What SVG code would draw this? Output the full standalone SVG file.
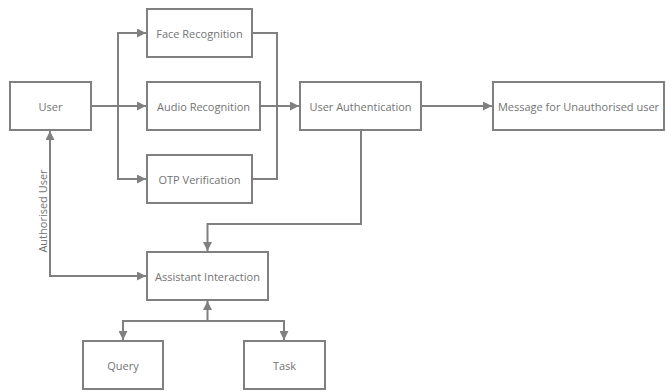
<svg xmlns="http://www.w3.org/2000/svg" width="667" height="391" viewBox="0 0 667 391">
<style>
.box{fill:#fff;stroke:#808080;stroke-width:2}
.t{font-family:"Open Sans","Noto Sans",sans-serif;font-size:11px;fill:#737373;text-anchor:middle;dominant-baseline:central}
.c{fill:none;stroke:#808080;stroke-width:2}
</style>
<defs>
<marker id="a" viewBox="0 0 10 10" refX="10" refY="5" markerWidth="4.5" markerHeight="4.5" orient="auto-start-reverse" markerUnits="strokeWidth">
<path d="M0,0 L10,5 L0,10 z" fill="#808080"/>
</marker>
</defs>
<rect width="667" height="391" fill="#fff"/>
<g id="connectors">
<path class="c" d="M91,106 H146" marker-end="url(#a)"/>
<path class="c" d="M118,106 V33 H146" marker-end="url(#a)"/>
<path class="c" d="M118,106 V179 H146" marker-end="url(#a)"/>
<path class="c" d="M252,33 H277 V179 H252"/>
<path class="c" d="M260,106 H299" marker-end="url(#a)"/>
<path class="c" d="M421,106 H492" marker-end="url(#a)"/>
<path class="c" d="M361,130 V224 H207.5 V251" marker-end="url(#a)"/>
<path class="c" d="M50,131 V276 H146" marker-start="url(#a)" marker-end="url(#a)"/>
<path class="c" d="M207.5,301 V321" marker-start="url(#a)"/>
<path class="c" d="M123,340 V321 H284 V340" marker-start="url(#a)" marker-end="url(#a)"/>
<text class="t" transform="translate(42.5,211) rotate(-90)">Authorised User</text>
</g>
<g id="user"><rect class="box" x="10" y="82" width="81" height="48"/><text class="t" x="50.5" y="106">User</text></g>
<g id="face"><rect class="box" x="147" y="9" width="105" height="48"/><text class="t" x="199.5" y="33">Face Recognition</text></g>
<g id="audio"><rect class="box" x="147" y="82" width="113" height="48"/><text class="t" x="203.5" y="106">Audio Recognition</text></g>
<g id="otp"><rect class="box" x="147" y="155" width="105" height="48"/><text class="t" x="199.5" y="179">OTP Verification</text></g>
<g id="auth"><rect class="box" x="300" y="82" width="121" height="48"/><text class="t" x="360.5" y="106">User Authentication</text></g>
<g id="msg"><rect class="box" x="493" y="82" width="171" height="48"/><text class="t" x="578.5" y="106">Message for Unauthorised user</text></g>
<g id="assistant"><rect class="box" x="147" y="252" width="121" height="48"/><text class="t" x="207.5" y="276">Assistant Interaction</text></g>
<g id="query"><rect class="box" x="83" y="341" width="80" height="48"/><text class="t" x="123" y="365">Query</text></g>
<g id="task"><rect class="box" x="244" y="341" width="81" height="48"/><text class="t" x="284.5" y="365">Task</text></g>
</svg>
